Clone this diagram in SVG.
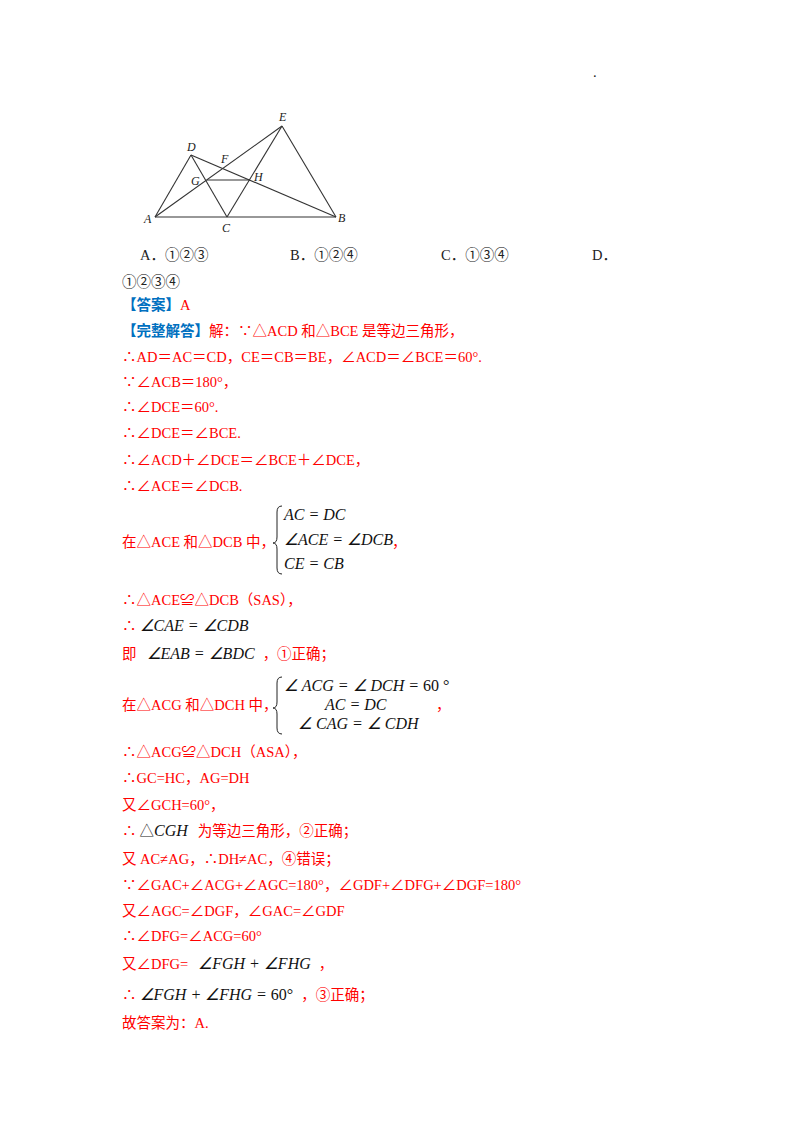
<svg xmlns="http://www.w3.org/2000/svg" width="800" height="1132" viewBox="0 0 800 1132">
<style>
.t{font-family:"Liberation Serif","Noto Sans CJK SC",serif;font-size:14.5px;fill:#ff0000}
.k{font-family:"Liberation Serif","Noto Sans CJK SC",serif;font-size:14.5px;fill:#222}
.b{font-family:"Noto Sans CJK SC",sans-serif;font-size:14.5px;fill:#0070c0;font-weight:bold}
.m{font-family:"Liberation Serif",serif;font-size:16px;font-style:italic;fill:#111}
.l{font-family:"Liberation Serif",serif;font-size:12px;font-style:italic;fill:#222}
.g line{stroke:#333;stroke-width:1.1}
.br{fill:none;stroke:#222;stroke-width:1}
</style>
<rect width="800" height="1132" fill="#fff"/>
<text x="593" y="77" class="k" font-size="8">.</text>
<g id="figure" class="g">
<line x1="155" y1="217" x2="336" y2="217"/>
<line x1="155" y1="217" x2="191" y2="155"/>
<line x1="191" y1="155" x2="227" y2="217"/>
<line x1="227" y1="217" x2="282" y2="126"/>
<line x1="282" y1="126" x2="336" y2="217"/>
<line x1="155" y1="217" x2="282" y2="126"/>
<line x1="191" y1="155" x2="336" y2="217"/>
<line x1="207" y1="180" x2="250" y2="180"/>
</g>
<g id="labels">
<text x="144" y="223" class="l">A</text>
<text x="187" y="151" class="l">D</text>
<text x="279" y="121" class="l">E</text>
<text x="221" y="163" class="l">F</text>
<text x="191" y="185" class="l">G</text>
<text x="254" y="181" class="l">H</text>
<text x="338" y="222" class="l">B</text>
<text x="222" y="232" class="l">C</text>
</g>
<g id="text">
<text x="140" y="260" class="k">A．①②③</text>
<text x="290" y="260" class="k">B．①②④</text>
<text x="441" y="260" class="k">C．①③④</text>
<text x="592" y="260" class="k">D．</text>
<text x="122" y="287" class="k">①②③④</text>
<text x="122" y="310"><tspan class="b">【答案】</tspan><tspan class="t">A</tspan></text>
<text x="122" y="336"><tspan class="b">【完整解答】</tspan><tspan class="t">解：∵△ACD 和△BCE 是等边三角形，</tspan></text>
<text x="122" y="362" class="t">∴AD＝AC＝CD，CE＝CB＝BE，∠ACD＝∠BCE＝60°.</text>
<text x="122" y="387" class="t">∵∠ACB＝180°，</text>
<text x="122" y="412" class="t">∴∠DCE＝60°.</text>
<text x="122" y="438" class="t">∴∠DCE＝∠BCE.</text>
<text x="122" y="465" class="t">∴∠ACD＋∠DCE＝∠BCE＋∠DCE，</text>
<text x="122" y="491" class="t">∴∠ACE＝∠DCB.</text>
<text x="122" y="547" class="t">在△ACE 和△DCB 中，</text>
<path class="br" d="M282,506 Q277,506 277,512 L277,537 Q277,543 273,543 Q277,543 277,549 L277,568 Q277,574 282,574"/>
<text x="284" y="520" class="m">AC = DC</text>
<text x="284" y="545" class="m">∠ACE = ∠DCB</text>
<text x="284" y="569" class="m">CE = CB</text>
<text x="392" y="547" class="t">，</text>
<text x="122" y="605" class="t">∴△ACE≌△DCB（SAS），</text>
<text x="122" y="631"><tspan class="t">∴</tspan><tspan class="m" dx="3">∠CAE = ∠CDB</tspan></text>
<text x="122" y="659"><tspan class="t">即</tspan><tspan class="m" dx="10">∠EAB = ∠BDC</tspan><tspan class="t" dx="8">，①正确；</tspan></text>
<text x="122" y="710" class="t">在△ACG 和△DCH 中，</text>
<path class="br" d="M282,677 Q277,677 277,683 L277,702 Q277,708 273,708 Q277,708 277,714 L277,728 Q277,734 282,734"/>
<text x="284" y="691" class="m">∠ ACG = ∠ DCH = <tspan font-style="normal">60 °</tspan></text>
<text x="325" y="710" class="m">AC = DC</text>
<text x="298" y="729" class="m">∠ CAG = ∠ CDH</text>
<text x="436" y="710" class="t">，</text>
<text x="122" y="757" class="t">∴△ACG≌△DCH（ASA），</text>
<text x="122" y="783" class="t">∴GC=HC，AG=DH</text>
<text x="122" y="810" class="t">又∠GCH=60°，</text>
<text x="122" y="836"><tspan class="t">∴</tspan><tspan class="k" font-size="10" dx="3">△</tspan><tspan class="m" font-size="17">CGH</tspan><tspan class="t" dx="10">为等边三角形，②正确；</tspan></text>
<text x="122" y="864" class="t">又 AC≠AG，∴DH≠AC，④错误；</text>
<text x="122" y="890" class="t">∵∠GAC+∠ACG+∠AGC=180°，∠GDF+∠DFG+∠DGF=180°</text>
<text x="122" y="916" class="t">又∠AGC=∠DGF，∠GAC=∠GDF</text>
<text x="122" y="941" class="t">∴∠DFG=∠ACG=60°</text>
<text x="122" y="969"><tspan class="t">又∠DFG=</tspan><tspan class="m" dx="10">∠FGH + ∠FHG</tspan><tspan class="t" dx="8">，</tspan></text>
<text x="122" y="1000"><tspan class="t">∴</tspan><tspan class="m" dx="3">∠FGH + ∠FHG = <tspan font-style="normal">60°</tspan></tspan><tspan class="t" dx="8">，③正确；</tspan></text>
<text x="122" y="1028" class="t">故答案为：A.</text>
</g>
</svg>
